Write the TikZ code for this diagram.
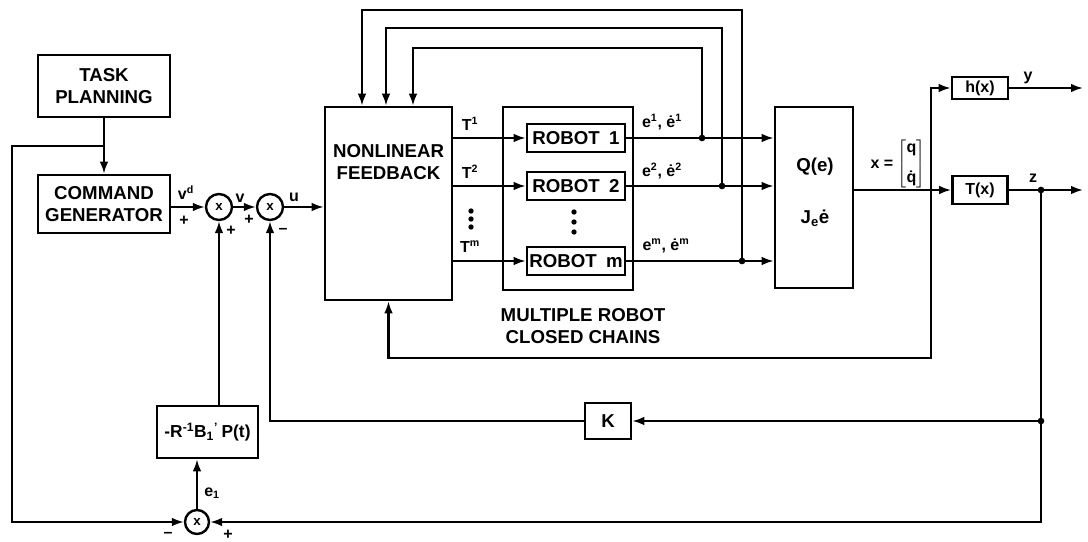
\documentclass[tikz,border=0pt]{standalone}
\usepackage{fontspec}
\setmainfont{Liberation Sans}
\usetikzlibrary{arrows.meta}
\tikzset{
  blk/.style={draw, line width=2pt, inner sep=1pt, align=center, font=\fontsize{14}{16}\selectfont\bfseries},
  sumj/.style={draw, circle, line width=1.8pt, minimum size=19.5pt, inner sep=0pt, font=\fontsize{10}{10}\selectfont\bfseries},
  conn/.style={line width=1.6pt},
  arr/.style={conn, -{Latex[length=9pt,width=6.5pt]}},
  jdot/.style={circle, fill, inner sep=0pt, minimum size=5pt},
  vdot/.style={circle, fill, inner sep=0pt, minimum size=4pt},
  lbl/.style={inner sep=1pt, align=center, font=\fontsize{12}{13}\selectfont\bfseries},
  big/.style={inner sep=1pt, align=center, font=\fontsize{14}{17}\selectfont\bfseries}
}
\begin{document}
\begin{tikzpicture}[x=0.75pt,y=-0.75pt]
\useasboundingbox[fill=white] (0,0) rectangle (1088,542);

% blocks
\node[blk, minimum width=99pt, minimum height=46.5pt] (task) at (104,86) {TASK\\PLANNING};
\node[blk, minimum width=99pt, minimum height=43.5pt] (cmd) at (104,204) {COMMAND\\GENERATOR};
\node[sumj] (j1) at (219,207) {x};
\node[sumj] (j2) at (270,207) {x};
\node[blk, minimum width=95.25pt, minimum height=144.75pt] (nl) at (388.5,203.5) {};
\node[big] (nltxt) at (388.5,162) {NONLINEAR\\FEEDBACK};
\node[blk, minimum width=97.5pt, minimum height=137.25pt] (cont) at (568,198.5) {};
\node[blk, minimum width=73.5pt, minimum height=21pt] (r1) at (576,138) {ROBOT\enspace 1};
\node[blk, minimum width=73.5pt, minimum height=21pt] (r2) at (576,186) {ROBOT\enspace 2};
\node[blk, minimum width=73.5pt, minimum height=21pt] (rm) at (576,261) {ROBOT\enspace m};
\node[blk, minimum width=58.5pt, minimum height=135.75pt] (Q) at (814,197.5) {};
\node[big] (qtxt) at (815,167) {Q(e)};
\node[big] (jtxt) at (815,218) {J\textsubscript{e}ė};
\node[blk, minimum width=42pt, minimum height=16.5pt, font=\fontsize{12}{13}\selectfont\bfseries] (h) at (980,88) {h(x)};
\node[blk, minimum width=41.25pt, minimum height=21pt, font=\fontsize{12}{13}\selectfont\bfseries] (T) at (980,190) {T(x)};
\node[blk, minimum width=34.5pt, minimum height=27pt] (K) at (608,421) {K};
\node[blk, minimum width=75.75pt, minimum height=39pt, font=\fontsize{13}{14}\selectfont\bfseries] (gain) at (207.5,432) {-R\textsuperscript{-1}B\textsubscript{1}\textsuperscript{’}\kern0.2em P(t)};
\node[sumj, minimum size=18pt] (j3) at (197,522) {x};

% coordinates
\coordinate (tb) at (104,146);
\coordinate (lc) at (12,146);
\coordinate (t1) at (702,138);
\coordinate (t2) at (722,186);
\coordinate (t3) at (742,261);
\coordinate (f1) at (413,48);
\coordinate (f2) at (386,28);
\coordinate (f3) at (362,10);
\coordinate (qo) at (853,190);
\coordinate (br) at (931,190);
\coordinate (hy) at (1083,88);
\coordinate (zo) at (1083,190);
\coordinate (zd) at (1041,190);
\coordinate (kd) at (1041,421);
\coordinate (fbc) at (931,358);

% connectors, left part
\draw[arr] (task.south) -- (cmd.north);
\draw[arr] (tb) -- (lc) |- (j3.west);
\draw[arr] (cmd.east |- j1) -- (j1.west);
\draw[arr] (j1.east) -- (j2.west);
\draw[arr] (j2.east) -- (nl.west |- j2);
\draw[arr] (gain.north -| j1) -- (j1.south);
\draw[arr] (j3.north) -- (j3 |- gain.south);

% torques
\draw[arr] (nl.east |- r1) -- (r1.west);
\draw[arr] (nl.east |- r2) -- (r2.west);
\draw[arr] (nl.east |- rm) -- (rm.west);

% robot outputs
\draw[arr] (r1.east) -- (Q.west |- r1);
\draw[arr] (r2.east) -- (Q.west |- r2);
\draw[arr] (rm.east) -- (Q.west |- rm);
\node[jdot] at (t1) {};
\node[jdot] at (t2) {};
\node[jdot] at (t3) {};
\draw[arr] (t1) |- (f1) -- (f1 |- nl.north);
\draw[arr] (t2) |- (f2) -- (f2 |- nl.north);
\draw[arr] (t3) |- (f3) -- (f3 |- nl.north);

% outputs
\draw[conn] (qo) -- (br);
\draw[arr] (br) |- (h.west);
\draw[arr] (br) -- (T.west);
\draw[arr] (h.east) -- (hy);
\draw[arr] (T.east) -- (zo);
\node[jdot] at (zd) {};
\node[jdot] at (kd) {};
\draw[conn] (zd) -- (kd);
\draw[arr] (kd) -- (K.east);
\draw[arr] (kd) |- (j3.east);
\draw[arr] (K.west) -| (j2.south);
\draw[arr] (br) -- (fbc) -| (nl.south);

% ellipsis dots
\node[vdot] at (471,211) {};
\node[vdot] at (471,219) {};
\node[vdot] at (471,227) {};
\node[vdot] at (574,212) {};
\node[vdot] at (574,222) {};
\node[vdot] at (574,232) {};

% labels
\node[lbl] at (186,193) {v\textsuperscript{d}};
\node[lbl] at (184,221) {+};
\node[lbl] at (231,231) {+};
\node[lbl] at (240,198) {v};
\node[lbl] at (249,220) {+};
\node[lbl] at (283,231) {\textendash};
\node[lbl] at (294,197) {u};
\node[lbl] at (470,124) {T\textsuperscript{1}};
\node[lbl] at (470,172) {T\textsuperscript{2}};
\node[lbl] at (470,247) {T\textsuperscript{m}};
\node[lbl] at (662,122) {e\textsuperscript{1}, ė\textsuperscript{1}};
\node[lbl] at (662,171) {e\textsuperscript{2}, ė\textsuperscript{2}};
\node[lbl] at (666,246) {e\textsuperscript{m}, ė\textsuperscript{m}};
\node[lbl] at (898,164) {x = $\left[\vcenter{\hbox{\begin{tabular}{@{}c@{}}q\\[9pt]\.q\end{tabular}}}\right]$};
\node[lbl] at (1028,78) {y};
\node[lbl] at (1033,178) {z};
\node[big] at (583,326) {MULTIPLE ROBOT\\CLOSED CHAINS};
\node[lbl] at (212,493) {e\textsubscript{1}};
\node[lbl] at (168,535) {\textendash};
\node[lbl] at (228,535) {+};
\end{tikzpicture}
\end{document}
